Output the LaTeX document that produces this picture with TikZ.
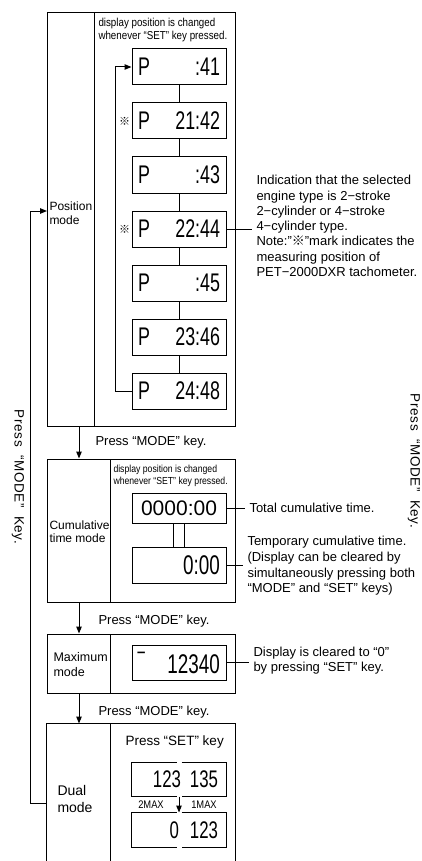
\documentclass[tikz,border=0pt]{standalone}
\usepackage{fontspec}
\setmainfont{Liberation Sans}
\newfontfamily\narrowfont[FakeStretch=0.85]{Liberation Sans}
\newfontfamily\lcdfont[FakeStretch=0.7]{Liberation Sans}
\newfontfamily\sidefont[LetterSpace=5]{Liberation Sans}
\newfontfamily\cjk{Noto Sans CJK JP}
\usetikzlibrary{arrows.meta, positioning}
\newcommand{\lcdrow}[2]{\makebox[82pt]{#1\hfill#2}}

\begin{document}
\begin{tikzpicture}[
    x=1pt, y=-1pt,
    line width=1pt,
    >={Stealth[length=7pt, width=5.5pt, inset=0pt]},
    every node/.style={inner sep=0pt},
    modebox/.style={draw, minimum width=188pt},
    lcd/.style={draw, minimum width=94pt, minimum height=36pt,
        font=\lcdfont\fontsize{25.5}{25.5}\selectfont},
    header/.style={anchor=north west, align=left,
        font=\narrowfont\fontsize{11.5}{13}\selectfont},
    modename/.style={anchor=west, align=left, font=\fontsize{12}{14}\selectfont},
    note/.style={anchor=west, align=left, inner xsep=4pt,
        font=\fontsize{13}{15.3}\selectfont},
    keytext/.style={anchor=west, font=\fontsize{13}{15}\selectfont},
    refmark/.style={font=\cjk\fontsize{11}{11}\selectfont},
    sidetext/.style={rotate=-90, font=\sidefont\fontsize{13.5}{13.5}\selectfont},
    maxtag/.style={font=\narrowfont\fontsize{11}{11}\selectfont}
]
\useasboundingbox (0,0) rectangle (422,861);

% --- Position mode ---
\node[modebox, minimum height=413pt] (posbox) at (141,219.5) {};
\draw (94,13) -- (94,426);
\node[header] (poshead) at (98,18)
    {display position is changed\\whenever “SET” key pressed.};
\node[modename] (posname) at (49,213) {Position\\mode};

\node[lcd] (p1) at (179,67) {\lcdrow{P}{:41}};
\node[lcd] (p2) at (179,121) {\lcdrow{P}{21:42}};
\node[lcd] (p3) at (179,175) {\lcdrow{P}{:43}};
\node[lcd] (p4) at (179,229) {\lcdrow{P}{22:44}};
\node[lcd] (p5) at (179,283) {\lcdrow{P}{:45}};
\node[lcd] (p6) at (179,337) {\lcdrow{P}{23:46}};
\node[lcd] (p7) at (179,391) {\lcdrow{P}{24:48}};
\draw (p1) -- (p2) (p2) -- (p3) (p3) -- (p4) (p4) -- (p5) (p5) -- (p6) (p6) -- (p7);
\draw[->] (p7.west) -- ++(-16,0) |- (p1.west);

\node[refmark, left=1pt of p2] (mark2) {※};
\node[refmark, left=1pt of p4] (mark4) {※};

\node[note] (posnote) at (252,226)
    {Indication that the selected\\engine type is 2−stroke\\2−cylinder or 4−stroke\\4−cylinder type.\\Note:”{\cjk ※}”mark indicates the\\measuring position of\\PET−2000DXR tachometer.};
\draw (p4.east) -- (p4.east -| posnote.west);

% --- Cumulative time mode ---
\coordinate (ax) at (79,0);
\node[keytext] (key1) at (95,442) {Press “MODE” key.};
\node[modebox, minimum height=143pt] (cumbox) at (141,530.5) {};
\draw (110,459) -- (110,602);
\draw[->] (posbox.south -| ax) -- (cumbox.north -| ax);
\node[header, font=\narrowfont\fontsize{10.2}{11.5}\selectfont] (cumhead) at (113,465)
    {display position is changed\\whenever “SET” key pressed.};
\node[modename, font=\fontsize{12}{13}\selectfont] (cumname) at (49,532) {Cumulative\\time mode};

\node[lcd, minimum height=30pt, font=\fontsize{21}{21}\selectfont] (c1) at (179,508) {0000:00};
\node[lcd, font=\lcdfont\fontsize{27}{27}\selectfont] (c2) at (179,565) {\lcdrow{}{0:00}};
\draw ([xshift=-5.5pt]c1.south) -- ([xshift=-5.5pt]c2.north);
\draw ([xshift=5.5pt]c1.south) -- ([xshift=5.5pt]c2.north);

\node[note] (cumnote1) at (245,508) {Total cumulative time.};
\draw (c1.east) -- (c1.east -| cumnote1.west);
\node[note, font=\fontsize{13}{15.7}\selectfont] (cumnote2) at (243,566)
    {Temporary cumulative time.\\(Display can be cleared by\\simultaneously pressing both\\“MODE” and “SET” keys)};
\draw (c2.east) -- (c2.east -| cumnote2.west);

% --- Maximum mode ---
\node[keytext] (key2) at (98,621) {Press “MODE” key.};
\node[modebox, minimum height=59pt] (maxbox) at (141,663.5) {};
\draw (110,634) -- (110,693);
\draw[->] (cumbox.south -| ax) -- (maxbox.north -| ax);
\node[modename, font=\fontsize{12.5}{15}\selectfont] (maxname) at (53,665) {Maximum\\mode};
\node[lcd, minimum height=35pt, font=\lcdfont\fontsize{27}{27}\selectfont] (m1) at (179,662.5)
    {\lcdrow{‾}{12340}};
\node[note, font=\fontsize{13}{15}\selectfont] (maxnote) at (249,661)
    {Display is cleared to “0”\\by pressing “SET” key.};
\draw (m1.east) -- (m1.east -| maxnote.west);

% --- Dual mode ---
\node[keytext] (key3) at (98,712) {Press “MODE” key.};
\node[minimum width=188pt, minimum height=137pt] (dualbox) at (141,792.5) {};
\draw (dualbox.south west) |- (dualbox.north east) -- (dualbox.south east);
\draw (110,724) -- (110,861);
\draw[->] (maxbox.south -| ax) -- (dualbox.north -| ax);
\node[modename, font=\fontsize{14}{17}\selectfont] (dualname) at (57,799) {Dual\\mode};
\node[keytext, font=\fontsize{13.5}{15}\selectfont] (setkey) at (125,742) {Press “SET” key};

\node[lcd, draw=none, minimum height=33pt, font=\lcdfont\fontsize{24}{24}\selectfont] (d1) at (179,779.5)
    {\makebox[78pt]{\hfill 123\hspace{9pt}135}};
\node[lcd, draw=none, minimum height=34pt, font=\lcdfont\fontsize{24}{24}\selectfont] (d2) at (179,830)
    {\makebox[78pt]{\hfill 0\hspace{11pt}123}};
\draw ([xshift=-2.5pt]d1.north) -| (d1.south west) -- ([xshift=-2.5pt]d1.south);
\draw ([xshift=2.5pt]d1.north) -| (d1.south east) -- ([xshift=2.5pt]d1.south);
\draw ([xshift=-2.5pt]d2.north) -| (d2.south west) -- ([xshift=-2.5pt]d2.south);
\draw ([xshift=2.5pt]d2.north) -| (d2.south east) -- ([xshift=2.5pt]d2.south);
\draw[->] (d1) -- (d2);
\node[maxtag] (tag2) at (151,805) {2MAX};
\node[maxtag] (tag1) at (204,805) {1MAX};

% --- Return loop ---
\coordinate (loopout) at (47,803);
\coordinate (loopin) at (47,211);
\draw[->] (loopout) -- ++(-16.5,0) |- (loopin);

% --- Side labels ---
\node[sidetext] (leftkey) at (18,477) {Press\hspace{8pt}“MODE”\hspace{8pt}Key.};
\node[sidetext] (rightkey) at (414,461) {Press\hspace{8pt}“MODE”\hspace{8pt}Key.};

\end{tikzpicture}
\end{document}
